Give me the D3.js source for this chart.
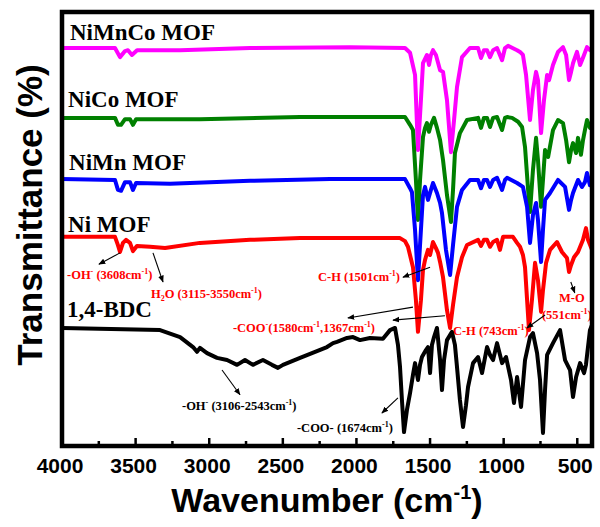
<!DOCTYPE html>
<html>
<head>
<meta charset="utf-8">
<script src="https://cdn.jsdelivr.net/npm/d3@7"></script>
<style>
  body { margin: 0; background: #fff; }
  svg { display: block; }
</style>
</head>
<body>
<div id="chart"></div>
<script>
// FTIR spectra, [wavenumber (cm-1), transmittance (a.u., stacked)]
const niMnCo = [
  [4000, 91.7], [3640, 91.7], [3606, 89.6], [3572, 91.0], [3552, 91.2], [3525, 90.1], [3490, 91.2],
  [3198, 91.2], [2723, 91.7], [2044, 91.9], [1670, 91.7], [1636, 90.6], [1602, 85.5], [1582, 68.2],
  [1562, 79.7], [1548, 88.2], [1521, 90.1], [1507, 87.8], [1494, 90.1], [1480, 91.2], [1460, 90.1],
  [1432, 86.6], [1412, 86.2], [1385, 79.7], [1358, 67.7], [1337, 75.1], [1317, 82.7], [1283, 89.6],
  [1229, 91.7], [1174, 91.7], [1154, 89.4], [1134, 91.2], [1113, 91.2], [1093, 89.6], [1072, 91.2],
  [1045, 91.7], [1011, 88.9], [991, 91.7], [970, 92.2], [909, 91.2], [889, 90.8], [869, 90.1],
  [848, 85.5], [821, 75.1], [801, 82.0], [780, 86.2], [767, 84.3], [746, 72.1], [726, 79.7],
  [705, 85.5], [692, 84.3], [665, 87.8], [631, 90.8], [597, 91.9], [576, 90.1], [556, 84.3],
  [542, 86.2], [529, 88.2], [502, 90.8], [481, 87.8], [468, 88.9], [454, 90.1], [434, 91.9],
  [414, 91.2], [400, 91.7]
];

const niCo = [
  [4000, 75.6], [3640, 75.6], [3620, 74.0], [3599, 74.0], [3572, 75.3], [3538, 75.3], [3518, 74.0],
  [3497, 75.3], [3063, 75.3], [2383, 75.8], [1670, 75.8], [1636, 74.0], [1616, 72.8], [1596, 61.3],
  [1582, 52.1], [1568, 61.3], [1548, 71.2], [1534, 73.3], [1521, 74.4], [1507, 72.4], [1494, 74.0],
  [1473, 75.6], [1453, 73.3], [1432, 70.5], [1412, 65.9], [1385, 57.8], [1358, 51.6], [1344, 59.0],
  [1331, 67.5], [1297, 72.1], [1249, 75.1], [1174, 75.6], [1154, 73.3], [1134, 75.6], [1113, 75.6],
  [1093, 73.5], [1072, 75.6], [1045, 75.8], [1011, 72.8], [991, 75.6], [977, 75.8], [943, 75.6],
  [902, 74.7], [875, 73.5], [855, 68.9], [834, 59.0], [821, 53.9], [801, 63.6], [780, 71.0],
  [767, 65.9], [746, 55.1], [733, 61.3], [719, 68.2], [698, 66.6], [665, 72.8], [631, 75.1],
  [597, 74.4], [576, 70.5], [556, 65.4], [542, 68.2], [529, 69.8], [508, 67.5], [495, 71.0],
  [475, 67.1], [461, 70.5], [448, 72.8], [434, 75.1], [414, 73.3], [400, 74.7]
];

const niMn = [
  [4000, 61.5], [3640, 61.3], [3620, 59.0], [3599, 58.8], [3572, 60.8], [3538, 60.8], [3518, 59.0],
  [3497, 60.6], [3266, 60.4], [2723, 61.1], [2180, 61.5], [1670, 61.5], [1636, 59.4], [1623, 58.5],
  [1602, 49.8], [1582, 38.2], [1562, 49.8], [1548, 57.8], [1534, 59.7], [1514, 56.7], [1494, 59.0],
  [1480, 60.6], [1453, 58.3], [1432, 56.0], [1419, 53.7], [1392, 45.2], [1364, 39.4], [1344, 46.3],
  [1317, 55.1], [1283, 59.0], [1229, 61.3], [1174, 61.3], [1154, 59.4], [1134, 61.3], [1113, 61.3],
  [1093, 59.7], [1072, 61.3], [1045, 61.8], [1011, 59.0], [991, 61.3], [977, 61.8], [909, 60.6],
  [869, 59.7], [841, 55.1], [821, 46.8], [801, 53.2], [780, 56.0], [767, 52.1], [746, 42.4],
  [733, 49.8], [719, 56.7], [685, 58.3], [631, 61.3], [583, 59.7], [556, 54.4], [542, 56.7],
  [529, 58.3], [495, 61.3], [468, 59.7], [448, 60.8], [434, 62.9], [414, 60.1], [400, 60.8]
];

const ni = [
  [4000, 48.2], [3640, 48.2], [3620, 46.3], [3606, 44.7], [3586, 46.8], [3565, 47.5], [3538, 46.8],
  [3518, 44.9], [3491, 46.1], [3402, 45.9], [3300, 45.6], [3063, 46.8], [2723, 47.5], [2383, 47.9],
  [1704, 47.9], [1670, 47.2], [1650, 45.9], [1616, 41.2], [1596, 33.6], [1582, 26.3], [1562, 33.6],
  [1548, 40.6], [1534, 42.9], [1514, 45.2], [1500, 44.0], [1480, 47.0], [1460, 45.6], [1446, 44.5],
  [1432, 42.4], [1412, 38.9], [1385, 31.3], [1364, 27.2], [1344, 32.5], [1317, 38.9], [1283, 43.5],
  [1249, 46.3], [1174, 47.5], [1154, 46.1], [1134, 47.5], [1113, 47.5], [1093, 45.9], [1072, 47.0],
  [1045, 47.5], [1025, 45.2], [1004, 48.2], [937, 48.2], [909, 46.8], [889, 45.9], [869, 44.0],
  [855, 41.2], [828, 26.7], [808, 33.6], [787, 42.2], [767, 38.2], [746, 30.9], [733, 35.9],
  [712, 42.2], [685, 45.2], [638, 47.0], [604, 44.7], [570, 43.3], [556, 40.1], [542, 41.7],
  [522, 43.5], [495, 44.7], [461, 47.5], [441, 50.2], [427, 47.5], [400, 45.2]
];

const bdc = [
  [4000, 27.2], [3334, 26.7], [3198, 25.1], [3110, 22.8], [3083, 21.7], [3063, 22.6], [3015, 21.4],
  [2947, 20.3], [2879, 19.8], [2811, 18.7], [2757, 19.8], [2703, 18.7], [2635, 19.8], [2574, 18.7],
  [2533, 18.0], [2499, 18.7], [2383, 20.3], [2200, 22.8], [2159, 23.7], [2132, 24.0], [2064, 24.9],
  [2023, 25.1], [1976, 24.4], [1908, 24.9], [1820, 24.7], [1772, 26.7], [1738, 27.2], [1718, 23.3],
  [1704, 18.2], [1691, 10.6], [1677, 3.2], [1657, 8.3], [1636, 12.2], [1616, 16.4], [1602, 19.1],
  [1582, 15.2], [1568, 18.7], [1555, 20.5], [1528, 22.1], [1514, 22.8], [1500, 16.8], [1487, 23.3],
  [1473, 25.1], [1453, 27.2], [1432, 19.8], [1419, 12.9], [1405, 19.8], [1385, 24.4], [1351, 26.3],
  [1331, 23.3], [1317, 18.2], [1297, 10.6], [1276, 4.4], [1256, 9.4], [1242, 13.6], [1208, 19.1],
  [1174, 20.5], [1147, 16.8], [1113, 22.8], [1093, 21.0], [1072, 19.8], [1045, 23.7], [1011, 19.1],
  [984, 20.5], [950, 15.2], [930, 9.9], [909, 15.9], [882, 9.0], [855, 19.8], [821, 25.1],
  [801, 26.0], [773, 21.4], [753, 15.2], [733, 3.0], [719, 12.9], [705, 21.0], [665, 23.7],
  [617, 26.7], [583, 19.8], [549, 17.5], [529, 11.3], [508, 15.9], [481, 19.1], [454, 16.8],
  [441, 18.7], [414, 26.7], [400, 27.9]
];

const seriesNames = ["NiMnCo MOF", "NiCo MOF", "NiMn MOF", "Ni MOF", "1,4-BDC"];
const seriesColors = ["#ff00ff", "#008000", "#0000ff", "#ff0000", "#000000"];
const seriesData = [niMnCo, niCo, niMn, ni, bdc];
// where each name sits (wavenumber, transmittance)
const labelAt = [[3946, 93.5], [3959, 78.1], [3952, 63.6], [3959, 49.3], [3966, 29.7]];

const xTicks = [4000, 3500, 3000, 2500, 2000, 1500, 1000, 500];
const xMinorTicks = [3750, 3250, 2750, 2250, 1750, 1250, 750];

// band assignments: text pieces ("sup"/"sub"), anchor, colour
const notes = [
  { parts: [["-OH"], ["-", "sup"], [" (3608cm"], ["-1", "sup"], [")"]], at: [3966, 38.5], color: "#ff0000" },
  { parts: [["H"], ["2", "sub"], ["O (3115-3550cm"], ["-1", "sup"], [")"]], at: [3396, 34.1], color: "#ff0000" },
  { parts: [["C-H (1501cm"], ["-1", "sup"], [")"]], at: [2261, 38.0], color: "#ff0000" },
  { parts: [["-COO"], ["-", "sup"], ["(1580cm"], ["-1", "sup"], [",1367cm"], ["-1", "sup"], [")"]], at: [2839, 26.3], color: "#ff0000" },
  { parts: [["C-H (743cm"], ["-1", "sup"], [")"]], at: [1345, 25.6], color: "#ff0000" },
  { parts: [["M-O"]], at: [537, 33.2], color: "#ff0000", anchor: "middle" },
  { parts: [["(551cm"], ["-1", "sup"], [")"]], at: [571, 29.3], color: "#ff0000", anchor: "middle" },
  { parts: [["-OH"], ["-", "sup"], [" (3106-2543cm"], ["-1", "sup"], [")"]], at: [3185, 8.3], color: "#000" },
  { parts: [["-COO- (1674cm"], ["-1", "sup"], [")"]], at: [2404, 3.2], color: "#000" }
];

// arrows: [from, to] in (wavenumber, transmittance)
const arrows = [
  [[3606, 44.5], [3749, 41.9]],
  [[3382, 44.5], [3314, 37.8]],
  [[1500, 41.2], [1684, 38.9]],
  [[1616, 32.0], [2058, 29.5]],
  [[1399, 30.0], [1752, 29.0]],
  [[719, 30.2], [842, 27.2]],
  [[544, 37.8], [517, 35.3]],
  [[2913, 17.5], [2791, 11.8]],
  [[1718, 11.1], [1827, 7.6]]
];

const width = 600;
const height = 527;
const serif = "'Liberation Serif', 'Times New Roman', serif";
const sans = "'Liberation Sans', Arial, sans-serif";

const x = d3.scaleLinear().domain([4000, 400]).range([62, 592]);
const y = d3.scaleLinear().domain([0, 100]).range([446, 12]);

const svg = d3.select("#chart")
  .append("svg")
  .attr("width", width)
  .attr("height", height);

svg.append("defs").append("marker")
  .attr("id", "head")
  .attr("viewBox", "0 0 10 10")
  .attr("refX", 9)
  .attr("refY", 5)
  .attr("markerWidth", 7)
  .attr("markerHeight", 7)
  .attr("markerUnits", "userSpaceOnUse")
  .attr("orient", "auto")
  .append("path")
  .attr("d", "M0,1 L10,5 L0,9 Z")
  .attr("fill", "#000");

const line = d3.line()
  .x(d => x(d[0]))
  .y(d => y(d[1]));

svg.append("g")
  .selectAll("path")
  .data(seriesData)
  .enter().append("path")
  .attr("d", line)
  .attr("fill", "none")
  .attr("stroke", (d, i) => seriesColors[i])
  .attr("stroke-width", 4)
  .attr("stroke-linejoin", "round");

svg.append("g")
  .selectAll("text")
  .data(seriesNames)
  .enter().append("text")
  .attr("x", (d, i) => x(labelAt[i][0]))
  .attr("y", (d, i) => y(labelAt[i][1]))
  .attr("font-family", serif)
  .attr("font-weight", "bold")
  .attr("font-size", 23)
  .attr("fill", "#000")
  .text(d => d);

// annotations
const noteText = svg.append("g")
  .selectAll("text")
  .data(notes)
  .enter().append("text")
  .attr("x", d => x(d.at[0]))
  .attr("y", d => y(d.at[1]))
  .attr("text-anchor", d => d.anchor || "start")
  .attr("font-family", serif)
  .attr("font-weight", "bold")
  .attr("font-size", 12.5)
  .attr("fill", d => d.color);

noteText.each(function(d) {
  const t = d3.select(this);
  let shift = 0;
  d.parts.forEach(p => {
    const want = p[1] === "sup" ? -5 : p[1] === "sub" ? 3 : 0;
    t.append("tspan")
      .attr("dy", want - shift)
      .attr("font-size", p[1] ? 8 : 12.5)
      .text(p[0]);
    shift = want;
  });
});

svg.append("g")
  .selectAll("line")
  .data(arrows)
  .enter().append("line")
  .attr("x1", d => x(d[0][0]))
  .attr("y1", d => y(d[0][1]))
  .attr("x2", d => x(d[1][0]))
  .attr("y2", d => y(d[1][1]))
  .attr("stroke", "#000")
  .attr("stroke-width", 1.1)
  .attr("marker-end", "url(#head)");

// frame + ticks
svg.append("rect")
  .attr("x", 62)
  .attr("y", 12)
  .attr("width", 530)
  .attr("height", 434)
  .attr("fill", "none")
  .attr("stroke", "#000")
  .attr("stroke-width", 4.5);

const xAxis = svg.append("g")
  .attr("transform", "translate(0,446)");

xAxis.selectAll(".major")
  .data(xTicks)
  .enter().append("line")
  .attr("x1", d => x(d))
  .attr("x2", d => x(d))
  .attr("y1", 0)
  .attr("y2", -8)
  .attr("stroke", "#000")
  .attr("stroke-width", 2.5);

xAxis.selectAll(".minor")
  .data(xMinorTicks)
  .enter().append("line")
  .attr("x1", d => x(d))
  .attr("x2", d => x(d))
  .attr("y1", 0)
  .attr("y2", -5)
  .attr("stroke", "#000")
  .attr("stroke-width", 2.5);

xAxis.selectAll("text")
  .data(xTicks)
  .enter().append("text")
  .attr("x", d => x(d) - 2)
  .attr("y", 27)
  .attr("text-anchor", "middle")
  .attr("font-family", sans)
  .attr("font-weight", "bold")
  .attr("font-size", 21)
  .text(d => d);

const xTitle = svg.append("text")
  .attr("x", 327)
  .attr("y", 512)
  .attr("text-anchor", "middle")
  .attr("font-family", sans)
  .attr("font-weight", "bold")
  .attr("font-size", 34);
xTitle.append("tspan").text("Wavenumber (cm");
xTitle.append("tspan").attr("dy", -13).attr("font-size", 20).text("-1");
xTitle.append("tspan").attr("dy", 13).text(")");

svg.append("text")
  .attr("transform", "translate(42,215) rotate(-90)")
  .attr("text-anchor", "middle")
  .attr("font-family", sans)
  .attr("font-weight", "bold")
  .attr("font-size", 35)
  .text("Transmittance (%)");
</script>
</body>
</html>
